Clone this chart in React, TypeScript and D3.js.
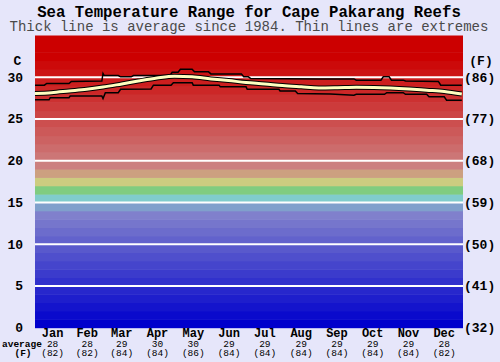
import React from 'react';
import * as d3 from 'd3';

// month labels and the monthly averages printed under the axis
const months = ['Jan', 'Feb', 'Mar', 'Apr', 'May', 'Jun', 'Jul', 'Aug', 'Sep', 'Oct', 'Nov', 'Dec'];
const monthDays = [31, 28, 31, 30, 31, 30, 31, 31, 30, 31, 30, 31];
const avgC = [28, 28, 29, 30, 30, 29, 29, 29, 29, 29, 29, 28];
const avgF = [82, 82, 84, 84, 86, 84, 84, 84, 84, 84, 84, 82];

const yTicksC = [0, 5, 10, 15, 20, 25, 30];
const yTicksF = [32, 41, 50, 59, 68, 77, 86];

// average line (day of year, deg C)
const avgDays = [1, 15, 30, 45, 59, 75, 89, 105, 120, 135, 151, 166, 181, 197, 212, 228, 243, 259, 275, 290, 304, 320, 335, 350, 365];
const avgTemps = [28.05, 28.15, 28.35, 28.55, 28.82, 29.2, 29.54, 29.9, 30.12, 30.05, 29.8, 29.6, 29.38, 29.2, 29.0, 28.85, 28.72, 28.75, 28.8, 28.78, 28.72, 28.6, 28.45, 28.3, 28.0];

// highest recorded
const maxDays = [1, 9, 11, 30, 32, 58, 59, 60, 72, 74, 83, 85, 116, 118, 123, 125, 135, 137, 149, 151, 177, 179, 183, 185, 243, 273, 275, 296, 298, 303, 305, 315, 317, 345, 347, 365];
const maxTemps = [29.05, 29.05, 29.25, 29.25, 29.5, 29.55, 30.45, 30.2, 30.2, 30.05, 30.05, 30.2, 30.2, 30.6, 30.6, 30.95, 30.95, 30.65, 30.65, 30.4, 30.4, 30.05, 30.05, 29.85, 29.8, 29.8, 29.65, 29.65, 30.05, 30.05, 29.65, 29.65, 29.55, 29.5, 29.05, 29.05];

// lowest recorded
const minDays = [1, 13, 14, 30, 31, 58, 59, 61, 72, 74, 100, 102, 117, 119, 135, 136, 158, 159, 181, 182, 209, 210, 223, 225, 253, 273, 275, 299, 301, 315, 317, 335, 337, 350, 352, 365];
const minTemps = [27.3, 27.3, 27.55, 27.55, 27.75, 27.75, 27.45, 28.15, 28.15, 28.55, 28.6, 29.05, 29.05, 29.35, 29.35, 29.05, 29.05, 28.85, 28.85, 28.55, 28.55, 28.35, 28.35, 28.05, 28.0, 27.85, 27.95, 27.95, 28.15, 28.15, 27.95, 27.95, 27.65, 27.65, 27.25, 27.25];

const W = 500;
const H = 362;
const left = 35;
const right = 463;
const top = 35.5;
const bottom = 327.7;
const mono = '"Liberation Mono", "Courier New", monospace';

// colour of the 1 degree band starting at t
const bandColor = (t: number) => {
    if (t >= 32) return 'rgb(204,0,0)';
    if (t >= 19) {
        const g = Math.round(128 - (t - 19) * (128 / 13));
        return `rgb(204,${g},${g})`;
    }
    if (t === 18) return 'rgb(204,160,128)';
    if (t === 17) return 'rgb(204,204,128)';
    if (t === 16) return 'rgb(128,204,128)';
    if (t === 15) return 'rgb(128,204,204)';
    if (t === 14) return 'rgb(128,160,204)';
    const c = Math.round((128 * t) / 13);
    return `rgb(${c},${c},204)`;
};

const App: React.FC = () => {
    const x = d3.scaleLinear().domain([1, 366]).range([left, right]);
    const y = d3.scaleLinear().domain([0, 35]).range([bottom, top]);

    const line = d3.line<[number, number]>()
        .x(d => x(d[0]))
        .y(d => y(d[1]));

    const avgPath = d3.line<[number, number]>()
        .x(d => x(d[0]))
        .y(d => y(d[1]))
        .curve(d3.curveMonotoneX)(avgDays.map((d, i) => [d, avgTemps[i]])) || '';
    const maxPath = line(maxDays.map((d, i) => [d, maxTemps[i]])) || '';
    const minPath = line(minDays.map((d, i) => [d, minTemps[i]])) || '';

    const starts = d3.cumsum(monthDays).map((c, i) => c - monthDays[i] + 1);
    const bands = d3.range(0, 35);

    return (
        <svg width={W} height={H} style={{ position: 'absolute', left: 0, top: 0 }} fontFamily={mono}>
            <rect x={0} y={0} width={W} height={H} fill="#e6e6fa" />

            {bands.map(t => (
                <rect key={t} x={left} width={right - left} y={y(t + 1)} height={y(t) - y(t + 1) + 0.5} fill={bandColor(t)} />
            ))}

            {starts.slice(1).map((s, i) => (
                <line key={i} x1={x(s - 1)} x2={x(s - 1)} y1={top} y2={bottom} stroke="#6e6e6e" strokeWidth={1} />
            ))}

            {yTicksC.slice(1).map(t => (
                <line key={t} x1={left} x2={right} y1={y(t)} y2={y(t)} stroke="#ffffff" strokeWidth={2} />
            ))}

            <path d={maxPath} fill="none" stroke="#000" strokeWidth={1.5} />
            <path d={minPath} fill="none" stroke="#000" strokeWidth={1.5} />
            <path d={avgPath} fill="none" stroke="#000" strokeWidth={5} />
            <path d={avgPath} fill="none" stroke="#ffffc0" strokeWidth={3} />

            <text x={249} y={17} textAnchor="middle" fontSize={15.7} fontWeight="bold" fill="#000">
                Sea Temperature Range for Cape Pakarang Reefs
            </text>
            <text x={249} y={31} textAnchor="middle" fontSize={14} fill="#4a4a4a">
                Thick line is average since 1984. Thin lines are extremes
            </text>

            <text x={17.5} y={65} textAnchor="middle" fontSize={13} fontWeight="bold">C</text>
            <text x={481} y={65} textAnchor="middle" fontSize={13} fontWeight="bold">(F)</text>

            {yTicksC.map(t => (
                <text key={t} x={23} y={y(t) + 4.5} textAnchor="end" fontSize={13} fontWeight="bold">{t}</text>
            ))}
            {yTicksF.map((f, i) => (
                <text key={f} x={464} y={y(yTicksC[i]) + 4.5} fontSize={13} fontWeight="bold">({f})</text>
            ))}

            {months.map((m, i) => {
                const cx = x(starts[i] + monthDays[i] / 2 - 0.5);
                return (
                    <g key={m}>
                        <text x={cx} y={337} textAnchor="middle" fontSize={12} fontWeight="bold">{m}</text>
                        <text x={cx} y={347} textAnchor="middle" fontSize={9.5}>{avgC[i]}</text>
                        <text x={cx} y={356} textAnchor="middle" fontSize={9.5}>({avgF[i]})</text>
                    </g>
                );
            })}
            <text x={2} y={347} fontSize={9.5} fontWeight="bold">average</text>
            <text x={23} y={356} textAnchor="middle" fontSize={9.5} fontWeight="bold">(F)</text>
        </svg>
    );
};

export default App;
